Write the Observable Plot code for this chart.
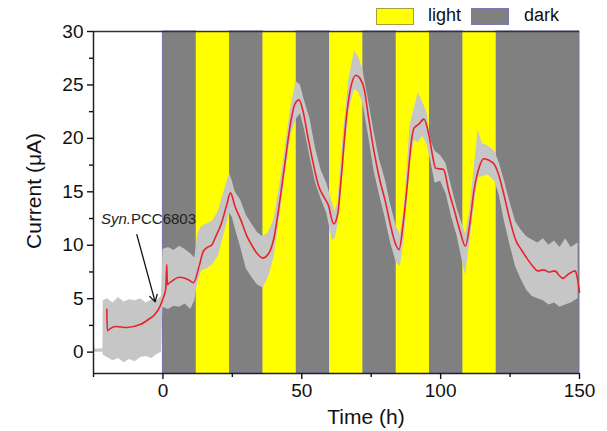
<!DOCTYPE html>
<html>
<head>
<meta charset="utf-8">
<script src="https://cdn.jsdelivr.net/npm/d3@7"></script>
<script src="https://cdn.jsdelivr.net/npm/@observablehq/plot@0.6"></script>
<style>
  html, body { margin: 0; padding: 0; background: #fff; }
  #wrap { position: relative; width: 607px; height: 431px; font-family: "Liberation Sans", Arial, sans-serif; }
  #legend { position: absolute; left: 0; top: 0; width: 607px; height: 30px; }
  .sw { position: absolute; top: 8px; width: 38px; height: 17px; box-sizing: border-box; }
  .lab { position: absolute; top: 5px; font-size: 18px; color: #111; }
</style>
</head>
<body>
<div id="wrap">
  <div id="chart"></div>
  <div id="legend">
    <div class="sw" style="left:376px;background:#ffff00;border:1.5px solid #a8a040;"></div>
    <div class="lab" style="left:428px;">light</div>
    <div class="sw" style="left:471px;background:#808080;border:1.5px solid #7a7ab8;"></div>
    <div class="lab" style="left:524px;">dark</div>
  </div>
</div>
<script>
// Illumination periods (h)
const periodStart = [0, 12, 24, 36, 48, 60, 72, 84, 96, 108, 120];
const periodEnd   = [12, 24, 36, 48, 60, 72, 84, 96, 108, 120, 150];
const periodType  = ["dark","light","dark","light","dark","light","dark","light","dark","light","dark"];

// Smoothed current (red line)
const redTime = [-20.2,-20,-19,-17,-13,-8,-5,-3,-1,0,1,1.4,1.6,2,3,6,9,11,13,14.5,16,17.5,19,21,23,24.3,26,28,30,32,34,36,38,40,42,44,46,47.5,49,50.5,52,54,56,58,59.5,61.5,63,64,66,67.5,69.5,71,72.5,74,76,78,80,82,83.5,85,86.5,88,89.5,90.5,92,94,95.7,97,98.2,101,103,105,107,108.9,110.5,112,114,115.5,117,119.5,121,123,125,127,129,131,133,135,137,139,141,143,144,146,148.5,149,150];
const redCurrent = [4.0,2.0,2.2,2.4,2.3,2.6,3.1,3.5,4.3,5.0,5.9,8.2,6.3,6.4,6.6,7.0,6.8,6.5,8.0,9.4,9.8,10.0,10.8,12.0,13.8,14.9,13.6,12.4,11.0,10.0,9.2,8.8,9.2,10.7,14.0,17.8,21.5,23.2,23.6,22.5,20.4,17.8,15.6,14.5,13.8,12.0,13.0,15.7,21.8,24.6,25.9,25.6,24.6,22.0,18.8,16.2,14.2,11.8,10.3,9.6,12.0,15.7,19.8,21.0,21.3,21.8,20.4,18.5,17.2,17.1,15.0,13.2,11.3,9.9,12.0,15.1,17.4,18.1,18.0,17.5,16.5,14.5,12.3,10.5,9.6,8.8,8.1,7.6,7.7,7.5,7.6,7.1,6.9,7.3,7.6,7.2,5.6];

// Raw-data envelope (gray)
const rawTime = [-25,-21.6,-21.5,-20,-18,-16,-14,-12,-10,-8,-6,-4,-2,-0.5,0,2,4,6,8,10,11.5,12.5,14,16,18,20,22,24,25,26,28,30,32,34,36,38,40,42,44,46,48,49.5,51,53,55,57,59,61,62,63,65,67,69,70.5,72,74,76,78,80,82,84,85.5,87,89,90.5,92,93.5,95,96.5,98,100,102,104,106,108,109,110.5,112,113.5,115,117,119.5,121,123,125,127,129,131,133,135,137,139,141,143,145,147,149.5];
const rawLow  = [0.0,0.0,-0.3,-0.5,-0.8,-0.6,-1.0,-0.7,-0.9,-0.5,-0.4,-0.6,-0.2,0.0,4.2,4.0,4.3,4.2,4.5,4.0,4.8,6.5,7.6,7.8,8.2,9.0,11.0,13.0,12.6,11.6,9.8,7.8,7.0,6.3,6.0,7.0,8.8,12.5,16.5,20.2,21.8,22.3,20.8,18.2,15.8,14.3,13.0,10.4,10.6,11.8,17.0,22.6,24.6,24.3,23.3,20.3,17.0,14.7,12.6,10.2,8.4,8.0,10.8,17.5,19.8,19.6,20.2,19.5,17.8,15.8,16.0,14.8,12.6,10.8,8.3,7.2,10.2,13.5,16.3,16.4,16.6,16.0,14.8,12.2,10.0,8.0,6.8,5.8,5.2,5.0,4.8,4.4,4.6,4.2,4.4,4.6,5.0];
const rawHigh = [0.3,0.3,4.8,5.0,4.6,5.1,4.7,4.9,4.8,5.0,4.6,4.9,4.8,5.2,9.6,9.8,9.5,9.9,9.6,9.2,8.8,11.0,11.8,12.0,12.3,13.2,15.0,16.7,16.0,15.0,14.2,12.8,12.0,11.2,10.8,11.2,12.4,15.5,19.0,22.8,25.3,25.0,23.5,21.8,19.0,17.0,15.8,14.0,13.2,14.0,20.5,25.6,28.2,27.6,26.4,23.6,20.6,18.0,16.2,13.8,11.8,11.0,13.8,21.2,22.8,24.3,23.4,22.5,19.8,18.8,18.4,17.6,15.4,13.4,11.8,11.0,13.2,17.0,20.8,19.5,19.3,18.8,17.8,16.0,14.0,12.2,11.4,10.8,10.5,10.2,10.6,10.0,10.4,9.8,10.6,9.8,10.2];

// Axis ticks
const xMajor = [0, 50, 100, 150];
const xMinor = [-25, 25, 75, 125];
const yMajor = [0, 5, 10, 15, 20, 25, 30];
const yMinor = [2.5, 7.5, 12.5, 17.5, 22.5, 27.5];

// Annotation
const noteLabel = ["Syn.PCC6803"];
const noteX = [-22.3];
const noteY = [12.4];
const arrowFrom = [{x: -9.4, y: 11.0}];
const arrowTo = [{x: -2.8, y: 4.7}];

const periods = periodStart.map((s, i) => ({s, e: periodEnd[i], type: periodType[i]}));
const red = redTime.map((t, i) => ({t, v: redCurrent[i]}));
const raw = rawTime.map((t, i) => ({t, lo: rawLow[i], hi: rawHigh[i]}));
const arrows = arrowFrom.map((a, i) => ({x1: a.x, y1: a.y, x2: arrowTo[i].x, y2: arrowTo[i].y}));
const notes = noteLabel.map((l, i) => ({l, x: noteX[i], y: noteY[i]}));

const chart = Plot.plot({
  width: 607,
  height: 431,
  marginLeft: 93,
  marginRight: 28,
  marginTop: 31,
  marginBottom: 58,
  style: {fontFamily: "'Liberation Sans', Arial, sans-serif", fontSize: "19px", color: "#111", background: "transparent"},
  x: {domain: [-25, 150]},
  y: {domain: [-2, 30]},
  marks: [
    Plot.rect(periods.filter(d => d.type === "dark"), {x1: "s", x2: "e", fill: "#808080", stroke: "#7070b0", strokeWidth: 1}),
    Plot.rect(periods.filter(d => d.type === "light"), {x1: "s", x2: "e", fill: "#ffff00"}),
    Plot.areaY(raw, {x: "t", y1: "lo", y2: "hi", fill: "#c6c6c6", curve: "linear"}),
    Plot.line(red, {x: "t", y: "v", stroke: "#e8232a", strokeWidth: 1.6, curve: "monotone-x"}),
    Plot.ruleY([30], {stroke: "#333", strokeWidth: 1.5}),
    Plot.ruleY([-2], {stroke: "#222", strokeWidth: 1.5}),
    Plot.ruleX([-25], {stroke: "#222", strokeWidth: 1.5}),
    Plot.axisX({ticks: xMajor, tickSize: 6, tickPadding: 4, tickFormat: d => String(d), fontSize: 19, label: null, strokeWidth: 1.4}),
    Plot.axisX({ticks: xMinor, tickSize: 4, tickFormat: () => "", label: null, strokeWidth: 1.4}),
    Plot.axisY({ticks: yMajor, tickSize: 6, tickPadding: 4, tickFormat: d => String(d), fontSize: 19, label: null, strokeWidth: 1.4}),
    Plot.axisY({ticks: yMinor, tickSize: 4, tickFormat: () => "", label: null, strokeWidth: 1.4}),
    Plot.text(notes, {x: "x", y: "y", text: "l", textAnchor: "start", fontSize: 15, fill: "#222", className: "note"}),
    Plot.arrow(arrows, {x1: "x1", y1: "y1", x2: "x2", y2: "y2", stroke: "#111", strokeWidth: 1.3, headLength: 9, bend: false})
  ]
});

// Axis titles as real text inside the svg
const svg = d3.select(chart);
svg.append("text")
  .attr("x", 366).attr("y", 424)
  .attr("text-anchor", "middle")
  .attr("font-size", 21)
  .attr("fill", "#111")
  .text("Time (h)");
svg.append("text")
  .attr("transform", "translate(41,191) rotate(-90)")
  .attr("text-anchor", "middle")
  .attr("font-size", 21)
  .attr("fill", "#111")
  .text("Current (\u03bcA)");

// italic "Syn." prefix
svg.selectAll("g.note text").each(function() {
  const t = d3.select(this);
  const s = t.text();
  t.text("");
  t.append("tspan").attr("font-style", "italic").text(s.slice(0, 4));
  t.append("tspan").text(s.slice(4));
});

document.getElementById("chart").appendChild(chart);
</script>
</body>
</html>
